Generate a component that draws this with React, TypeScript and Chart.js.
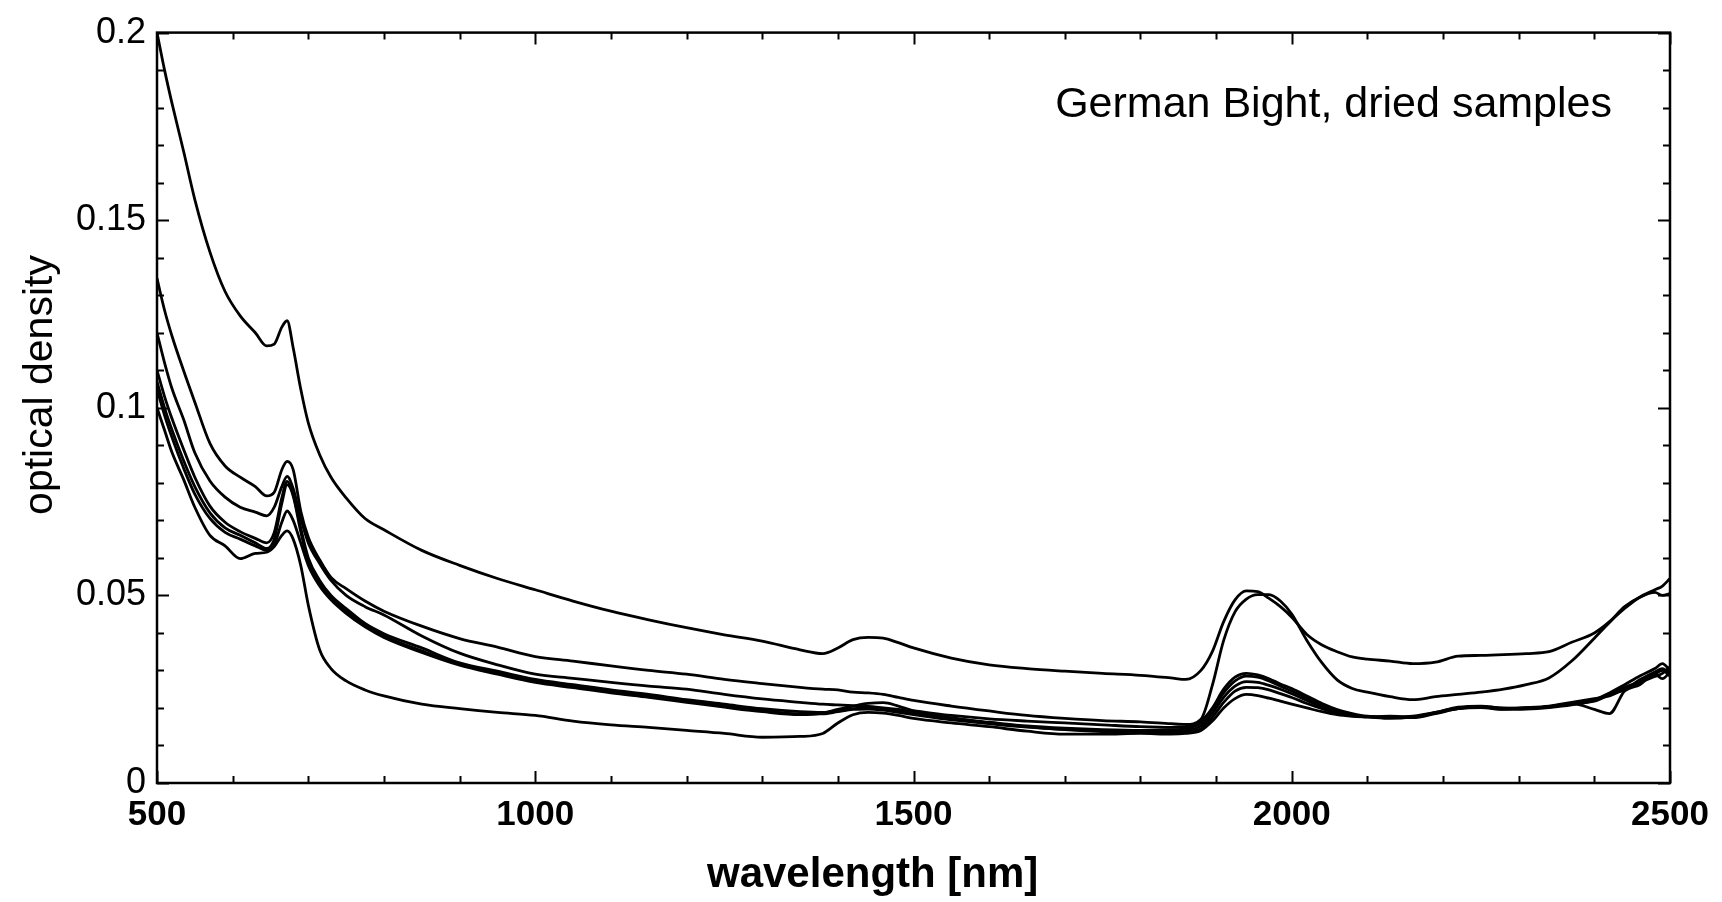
import React, { useEffect, useRef } from "react";
import { Chart, registerables } from "chart.js";

Chart.register(...registerables);

// wavelength grid (nm)
const WAVELENGTH = [
  500, 510, 520, 535, 550, 570,
  590, 610, 630, 645, 655, 665, 672, 680,
  690, 700, 715, 730, 750, 775, 800,
  850, 900, 950, 1000, 1050, 1100, 1150, 1200,
  1250, 1300, 1350, 1380, 1400, 1420, 1440, 1460,
  1480, 1500, 1550, 1600, 1650, 1700, 1750, 1800,
  1840, 1860, 1880, 1895, 1910, 1925, 1940, 1955,
  1970, 1985, 2000, 2020, 2040, 2060, 2080, 2100,
  2130, 2160, 2190, 2220, 2250, 2280, 2310, 2340,
  2370, 2400, 2420, 2440, 2460, 2480, 2490, 2500,
];

const SAMPLE_1 = [
  0.200, 0.1900, 0.1810, 0.1685, 0.1555, 0.1415,
  0.1310, 0.1245, 0.1200, 0.1165, 0.1170, 0.1215, 0.1232, 0.1160,
  0.1050, 0.0960, 0.0875, 0.0815, 0.0760, 0.0705, 0.0675,
  0.0620, 0.0580, 0.0545, 0.0515, 0.0485, 0.0458, 0.0435, 0.0414,
  0.0395, 0.0378, 0.0355, 0.0345, 0.0360, 0.0382, 0.0388, 0.0386,
  0.0374, 0.0360, 0.0333, 0.0315, 0.0305, 0.0298, 0.0292, 0.0287,
  0.0280, 0.0276, 0.0300, 0.0350, 0.0430, 0.0488, 0.0512, 0.0510,
  0.0492, 0.0470, 0.0442, 0.0396, 0.0368, 0.0350, 0.0336, 0.0330,
  0.0325, 0.0318, 0.0322, 0.0338, 0.0340, 0.0342, 0.0345, 0.0350,
  0.0375, 0.0400, 0.0430, 0.0470, 0.0495, 0.0508, 0.0500, 0.0505,
];

const SAMPLE_2 = [
  0.1345, 0.126, 0.119, 0.110, 0.1015, 0.0905,
  0.0845, 0.0815, 0.0790, 0.0765, 0.0775, 0.0835, 0.0857, 0.0835,
  0.0725, 0.0655, 0.0595, 0.0548, 0.0518, 0.0485, 0.0458,
  0.0418, 0.0385, 0.0362, 0.0337, 0.0325, 0.0312, 0.0300, 0.0290,
  0.0276, 0.0265, 0.0255, 0.0250, 0.0248, 0.0242, 0.0240, 0.0236,
  0.0228, 0.0220, 0.0205, 0.0192, 0.0180, 0.0172, 0.0166, 0.0163,
  0.0158, 0.0156, 0.0170, 0.0260, 0.0380, 0.0456, 0.0490, 0.0502,
  0.0502, 0.0485, 0.0450, 0.0380, 0.0320, 0.0275, 0.0252, 0.0242,
  0.0230, 0.0222, 0.0230, 0.0236, 0.0242, 0.0250, 0.0262, 0.0280,
  0.0325, 0.0386, 0.0428, 0.0465, 0.0495, 0.0515, 0.0525, 0.0545,
];

const SAMPLE_3 = [
  0.120, 0.112, 0.105, 0.097, 0.088, 0.0805,
  0.0762, 0.0735, 0.0722, 0.0712, 0.0735, 0.0790, 0.0817, 0.0785,
  0.0705, 0.0640, 0.0585, 0.0540, 0.0500, 0.0470, 0.0448,
  0.0392, 0.0346, 0.0315, 0.0290, 0.0279, 0.0268, 0.0258, 0.0250,
  0.0236, 0.0224, 0.0215, 0.0210, 0.0208, 0.0206, 0.0204, 0.0200,
  0.0196, 0.0192, 0.0180, 0.0171, 0.0165, 0.0160, 0.0155, 0.0150,
  0.0148, 0.0150, 0.0165, 0.0200, 0.0250, 0.0282, 0.0292, 0.0288,
  0.0278, 0.0264, 0.0252, 0.0232, 0.0212, 0.0196, 0.0185, 0.0178,
  0.0176, 0.0174, 0.0185, 0.0198, 0.0204, 0.0200, 0.0198, 0.0204,
  0.0210, 0.0222, 0.0240, 0.0262, 0.0285, 0.0305, 0.0318, 0.0300,
];

const SAMPLE_4 = [
  0.110, 0.103, 0.097, 0.089, 0.0815, 0.0738,
  0.0695, 0.0670, 0.0652, 0.0640, 0.0668, 0.0760, 0.0804, 0.0770,
  0.0680, 0.0600, 0.0540, 0.0500, 0.0465, 0.0425, 0.0398,
  0.0360, 0.0320, 0.0298, 0.0276, 0.0262, 0.0248, 0.0236, 0.0222,
  0.0210, 0.0198, 0.0190, 0.0188, 0.0192, 0.0198, 0.0200, 0.0198,
  0.0192, 0.0186, 0.0172, 0.0162, 0.0152, 0.0146, 0.0142, 0.0140,
  0.0142, 0.0145, 0.0160, 0.0195, 0.0240, 0.0272, 0.0285, 0.0282,
  0.0272, 0.0258, 0.0245, 0.0226, 0.0206, 0.0192, 0.0182, 0.0176,
  0.0178, 0.0176, 0.0186, 0.0200, 0.0202, 0.0197, 0.0200, 0.0202,
  0.0212, 0.0218, 0.0236, 0.0255, 0.0270, 0.0290, 0.0300, 0.0285,
];

const SAMPLE_5 = [
  0.107, 0.100, 0.094, 0.086, 0.079, 0.0720,
  0.0680, 0.0660, 0.0640, 0.0625, 0.0650, 0.0745, 0.0795, 0.0765,
  0.0670, 0.0590, 0.0532, 0.0493, 0.0458, 0.0420, 0.0392,
  0.0352, 0.0316, 0.0294, 0.0272, 0.0258, 0.0244, 0.0232, 0.0218,
  0.0205, 0.0193, 0.0184, 0.0184, 0.0190, 0.0196, 0.0197, 0.0194,
  0.0188, 0.0182, 0.0168, 0.0158, 0.0149, 0.0143, 0.0139, 0.0137,
  0.0138, 0.0140, 0.0152, 0.0185, 0.0228, 0.0258, 0.0270, 0.0268,
  0.0260, 0.0250, 0.0238, 0.0220, 0.0202, 0.0190, 0.0180, 0.0177,
  0.0175, 0.0178, 0.0188, 0.0202, 0.0205, 0.0199, 0.0201, 0.0205,
  0.0215, 0.0225, 0.0232, 0.0250, 0.0268, 0.0284, 0.0292, 0.0310,
];

const SAMPLE_6 = [
  0.105, 0.098, 0.092, 0.084, 0.077, 0.0705,
  0.0668, 0.0650, 0.0632, 0.0620, 0.0635, 0.0695, 0.0725, 0.0700,
  0.0640, 0.0580, 0.0525, 0.0488, 0.0452, 0.0416, 0.0388,
  0.0348, 0.0314, 0.0290, 0.0268, 0.0254, 0.0240, 0.0228, 0.0215,
  0.0202, 0.0190, 0.0182, 0.0186, 0.0196, 0.0205, 0.0212, 0.0214,
  0.0205, 0.0192, 0.0174, 0.0160, 0.0150, 0.0142, 0.0137, 0.0134,
  0.0134, 0.0136, 0.0145, 0.0175, 0.0215, 0.0245, 0.0255, 0.0254,
  0.0248, 0.0238, 0.0228, 0.0212, 0.0198, 0.0186, 0.0178, 0.0176,
  0.0174, 0.0176, 0.0188, 0.0200, 0.0203, 0.0198, 0.0200, 0.0203,
  0.0212, 0.0196, 0.0185, 0.0245, 0.0262, 0.0290, 0.0278, 0.0295,
];

const SAMPLE_7 = [
  0.100, 0.094, 0.088, 0.081, 0.0735, 0.0660,
  0.0632, 0.0598, 0.0612, 0.0615, 0.0630, 0.0660, 0.0672, 0.0650,
  0.0580, 0.0474, 0.0355, 0.0305, 0.0272, 0.0248, 0.0232,
  0.0210, 0.0198, 0.0188, 0.0180, 0.0165, 0.0155, 0.0148, 0.0140,
  0.0132, 0.0122, 0.0124, 0.0132, 0.0160, 0.0182, 0.0188, 0.0186,
  0.0180, 0.0172, 0.0160, 0.0150, 0.0138, 0.0130, 0.0130, 0.0132,
  0.0130, 0.0132, 0.0140, 0.0165, 0.0200, 0.0225, 0.0236, 0.0233,
  0.0226, 0.0218, 0.0210, 0.0200, 0.0190, 0.0182, 0.0178, 0.0176,
  0.0172, 0.0176, 0.0187, 0.0198, 0.0201, 0.0196, 0.0197, 0.0201,
  0.0208, 0.0220, 0.0238, 0.0248, 0.0275, 0.0296, 0.0305, 0.0290,
];

const SAMPLES = [SAMPLE_1, SAMPLE_2, SAMPLE_3, SAMPLE_4, SAMPLE_5, SAMPLE_6, SAMPLE_7];

const X_MIN = 500;
const X_MAX = 2500;
const X_MAJOR = 500;
const X_MINOR = 100;
const Y_MIN = 0;
const Y_MAX = 0.2;
const Y_MAJOR = 0.05;
const Y_MINOR = 0.01;

const ANNOTATION = "German Bight, dried samples";
const X_TITLE = "wavelength [nm]";
const Y_TITLE = "optical density";

const FONT = "'Liberation Sans', Arial, Helvetica, sans-serif";

const framePlugin = {
  id: "frameTicks",
  afterDraw(chart: any) {
    const { ctx, chartArea, scales } = chart;
    const { left, right, top, bottom } = chartArea;
    const xs = scales.x;
    const ys = scales.y;
    ctx.save();
    ctx.strokeStyle = "#000";
    ctx.lineWidth = 2;
    ctx.beginPath();
    const nx = Math.round((X_MAX - X_MIN) / X_MINOR);
    for (let i = 0; i <= nx; i++) {
      const v = X_MIN + i * X_MINOR;
      const px = Math.round(xs.getPixelForValue(v)) + 0.5;
      const len = i % Math.round(X_MAJOR / X_MINOR) === 0 ? 12 : 7;
      ctx.moveTo(px, bottom);
      ctx.lineTo(px, bottom - len);
      ctx.moveTo(px, top);
      ctx.lineTo(px, top + len);
    }
    const ny = Math.round((Y_MAX - Y_MIN) / Y_MINOR);
    for (let i = 0; i <= ny; i++) {
      const v = Y_MIN + i * Y_MINOR;
      const py = Math.round(ys.getPixelForValue(v)) + 0.5;
      const len = i % Math.round(Y_MAJOR / Y_MINOR) === 0 ? 12 : 7;
      ctx.moveTo(left, py);
      ctx.lineTo(left + len, py);
      ctx.moveTo(right, py);
      ctx.lineTo(right - len, py);
    }
    ctx.stroke();
    ctx.lineWidth = 2.5;
    ctx.strokeRect(left, top, right - left, bottom - top);

    ctx.fillStyle = "#000";
    ctx.font = `43px ${FONT}`;
    ctx.textAlign = "right";
    ctx.textBaseline = "alphabetic";
    ctx.fillText(ANNOTATION, 1612, 117);
    ctx.restore();
  },
};

export default function App() {
  const ref = useRef<HTMLCanvasElement | null>(null);

  useEffect(() => {
    if (!ref.current) return;
    const datasets = SAMPLES.map((s, i) => ({
      label: `sample ${i + 1}`,
      data: WAVELENGTH.map((w, j) => ({ x: w, y: s[j] })),
      borderColor: "#000",
      backgroundColor: "#000",
      borderWidth: 2.8,
      pointRadius: 0,
      pointHoverRadius: 0,
      fill: false,
      cubicInterpolationMode: "monotone" as const,
    }));

    const chart = new Chart(ref.current, {
      type: "line",
      data: { datasets },
      options: {
        animation: false,
        responsive: false,
        devicePixelRatio: 1,
        events: [],
        layout: { padding: { left: 0, top: 25, right: 52, bottom: 0 } },
        plugins: {
          legend: { display: false },
          tooltip: { enabled: false },
        },
        scales: {
          x: {
            type: "linear",
            min: X_MIN,
            max: X_MAX,
            grid: { display: false, drawTicks: false },
            border: { display: false },
            ticks: {
              stepSize: X_MAJOR,
              padding: 11,
              color: "#000",
              font: { family: FONT, size: 35, weight: "bold", lineHeight: 1.2 },
              maxRotation: 0,
              callback: (v: any) => String(v),
            },
            title: {
              display: true,
              text: X_TITLE + "       ",
              color: "#000",
              font: { family: FONT, size: 42, weight: "bold", lineHeight: 1 },
              padding: { top: 0, bottom: 6 },
            },
            afterFit: (scale: any) => {
              scale.height = 119;
            },
          },
          y: {
            type: "linear",
            min: Y_MIN,
            max: Y_MAX,
            grid: { display: false, drawTicks: false },
            border: { display: false },
            ticks: {
              stepSize: Y_MAJOR,
              padding: 11,
              color: "#000",
              font: { family: FONT, size: 36, lineHeight: 1.2 },
              callback: (v: any) => String(Number(Number(v).toFixed(2))),
            },
            title: {
              display: true,
              text: "    " + Y_TITLE,
              color: "#000",
              font: { family: FONT, size: 41, lineHeight: 1 },
              padding: { top: 20, bottom: 0 },
            },
            afterFit: (scale: any) => {
              scale.width = 157;
            },
          },
        },
      },
      plugins: [framePlugin],
    });
    return () => chart.destroy();
  }, []);

  return (
    <div style={{ position: "fixed", left: 0, top: 0, width: 1722, height: 902, background: "#fff" }}>
      <canvas ref={ref} width={1722} height={902} style={{ display: "block", width: 1722, height: 902 }} />
    </div>
  );
}
